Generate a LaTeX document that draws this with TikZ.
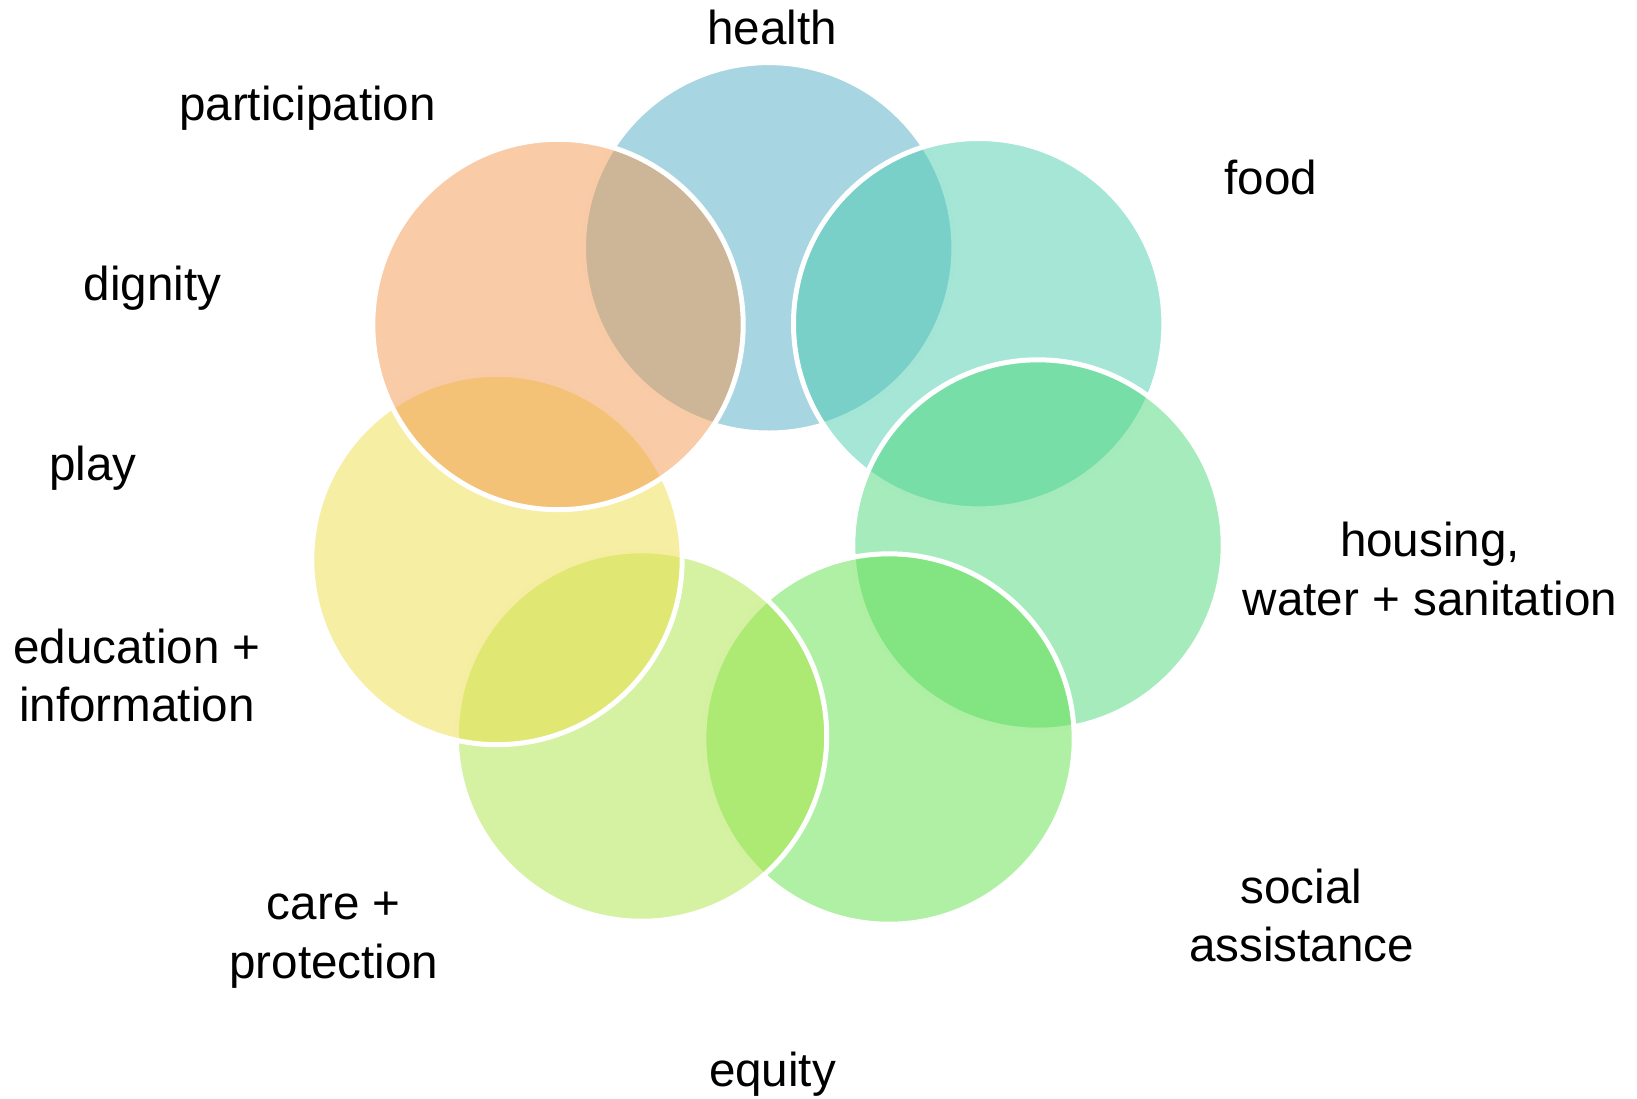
\documentclass[tikz,border=0pt]{standalone}
\usepackage{fontspec}
\setmainfont{Liberation Sans}
\usetikzlibrary{positioning}

\definecolor{healthblue}{RGB}{79,171,197}
\definecolor{foodteal}{RGB}{77,205,175}
\definecolor{housegreen}{RGB}{75,215,121}
\definecolor{socialgreen}{RGB}{97,225,73}
\definecolor{carelime}{RGB}{169,229,67}
\definecolor{eduyellow}{RGB}{237,221,69}
\definecolor{dignorange}{RGB}{243,151,79}

\begin{document}
\begin{tikzpicture}[x=0.5pt,y=-0.5pt]
  \tikzstyle{petal}=[circle,draw=white,line width=2.5pt,fill opacity=0.5,minimum size=185.2pt,inner sep=0pt]
  \tikzstyle{word}=[align=center,anchor=base,inner sep=0pt,font=\fontsize{23.8}{29.2}\selectfont]

  \useasboundingbox (0,0) rectangle (1637,1098);

    % the ring, each petal laid over the one before
    \node [petal,fill=healthblue]  (health)  at (768.7,247.8) {};
    \node [petal,fill=foodteal]    (food)    at (978.7,323.7) {};
    \node [petal,fill=housegreen]  (housing) at (1038,545) {};
    \node [petal,fill=socialgreen] (social)  at (889,739) {};
    \node [petal,fill=carelime]    (care)    at (641.5,736) {};
    \node [petal,fill=eduyellow]   (edu)     at (497,559.5) {};
    \node [petal,fill=dignorange]  (dign)    at (558,324.5) {};

    % words round the ring (base = last line)
    \node [word] (thealth)  at (772,44.3) {health};
    \node [word] (tfood)    at (1270.8,194) {food};
    \node [word] (thousing) at (1430,615) {housing,\\water + sanitation};
    \node [word] (tsocial)  at (1301.5,961.7) {social\\assistance};
    \node [word] (tequity)  at (772.5,1086.7) {equity};
    \node [word] (tcare)    at (333.8,978.3) {care +\\protection};
    \node [word] (tedu)     at (137,721.7) {education +\\information};
    \node [word] (tplay)    at (92.8,480.7) {play};
    \node [word] (tdign)    at (152.5,300.7) {dignity};
    \node [word] (tpart)    at (307.5,120) {participation};
\end{tikzpicture}
\end{document}
